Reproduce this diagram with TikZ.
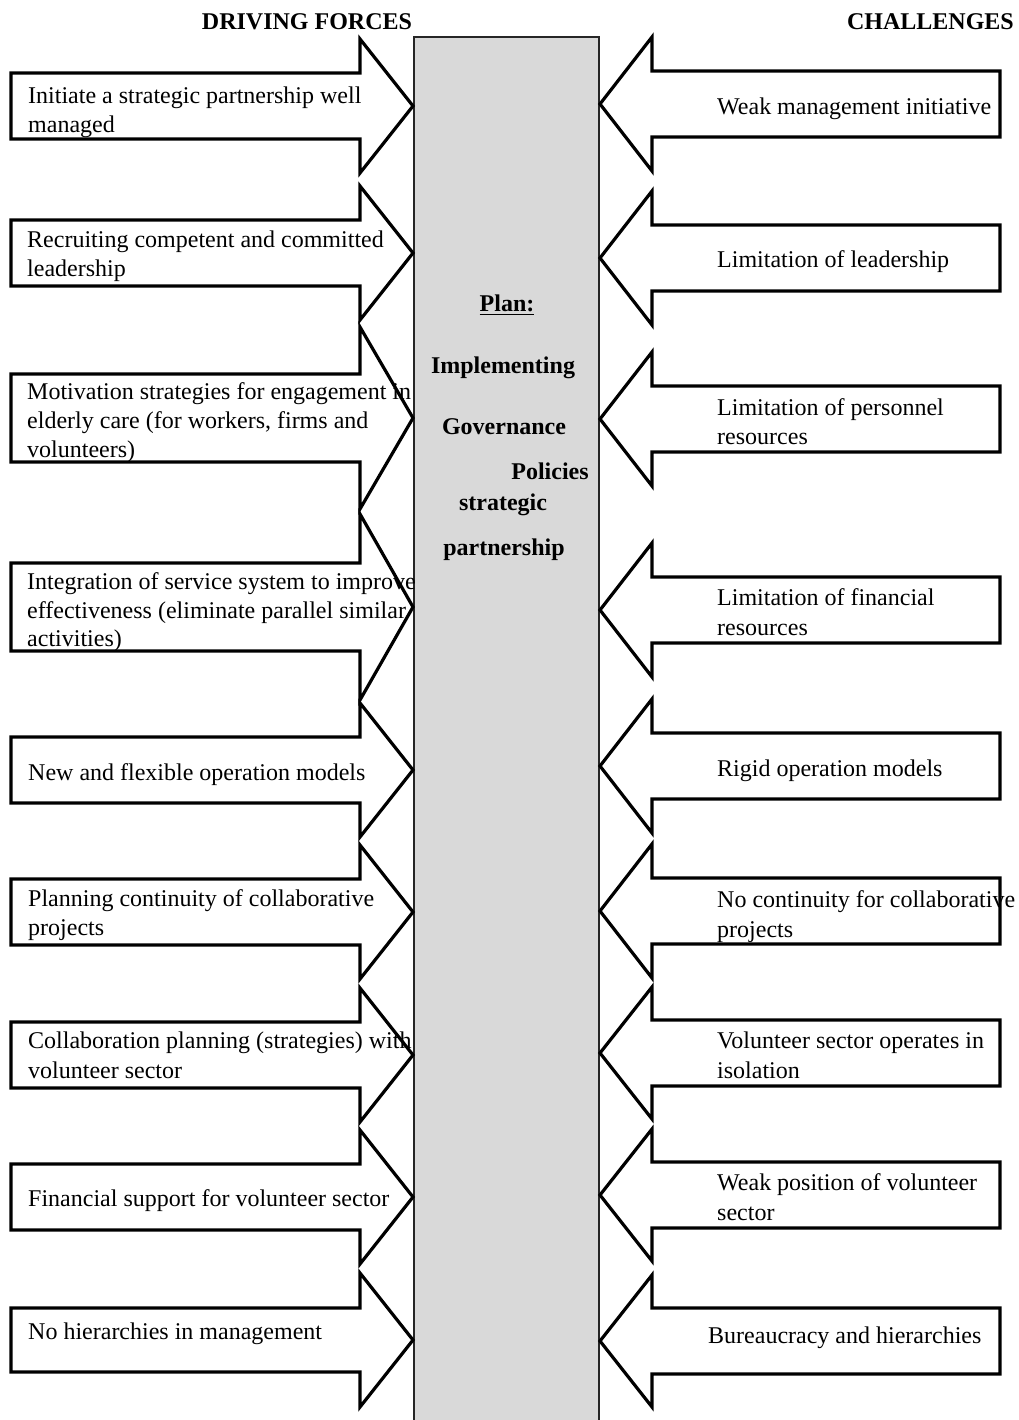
\documentclass[tikz,border=0pt]{standalone}
\usepackage{fontspec}
\setmainfont{Liberation Serif}
\definecolor{colgray}{HTML}{D9D9D9}
\newcommand\LArr[3]{\draw[arrowline] (11,{#1-#2}) -- (360,{#1-#2}) -- (360,{#1-#3}) -- (413,#1) -- (360,{#1+#3}) -- (360,{#1+#2}) -- (11,{#1+#2}) -- cycle;}
\newcommand\RArr[3]{\draw[arrowline] (1000,{#1-#2}) -- (652,{#1-#2}) -- (652,{#1-#3}) -- (600,#1) -- (652,{#1+#3}) -- (652,{#1+#2}) -- (1000,{#1+#2}) -- cycle;}
\begin{document}
\begin{tikzpicture}[x=1pt,y=-1pt,
  arrowline/.style={draw=black, line width=3.2pt, fill=white, line join=miter},
  lt/.style={anchor=base west, inner sep=0pt, font=\fontsize{24}{29}\selectfont},
  ct/.style={anchor=base, inner sep=0pt, font=\fontsize{24}{29}\selectfont\bfseries},
  ht/.style={inner sep=0pt, font=\fontsize{24}{29}\selectfont\bfseries}]
\useasboundingbox (0,0) rectangle (1018,1420);
% central column
\fill[colgray] (414,37) rectangle (599,1421);
\draw[line width=1.5pt, black!85] (414,1421) -- (414,37) -- (599,37) -- (599,1421);
% headers
\node[ht, anchor=base] (hdf) at (307,30) {DRIVING FORCES};
\node[ht, anchor=base east] (hch) at (1014,30) {CHALLENGES};
% left arrows
\LArr{106}{33}{67}
\LArr{253}{33}{67}
\LArr{418}{44}{91}
\LArr{607}{44}{93}
\LArr{770}{33}{67}
\LArr{912}{33}{67}
\LArr{1055}{33}{67}
\LArr{1197}{33}{67}
\LArr{1340}{32}{67}
% right arrows
\RArr{104}{33}{67}
\RArr{258}{33}{67}
\RArr{419}{33}{67}
\RArr{610}{33}{67}
\RArr{766}{33}{67}
\RArr{911}{33}{67}
\RArr{1053}{33}{66}
\RArr{1195}{33}{66}
\RArr{1341}{33}{66}
% central texts
\node[ct] (plan) at (507,312) {\underline{Plan:}};
\node[ct] (impl) at (503,373) {Implementing};
\node[ct] (gov) at (504,434) {Governance};
\node[ct] (pol) at (550,479) {Policies};
\node[ct] (strat) at (503,510) {strategic};
\node[ct] (part) at (504,555) {partnership};
% left texts
\node[lt] (l1a) at (28,104) {Initiate a strategic partnership well};
\node[lt] (l1b) at (28,133) {managed};
\node[lt] (l2a) at (27,248) {Recruiting competent and committed};
\node[lt] (l2b) at (27,277) {leadership};
\node[lt] (l3a) at (27,399) {Motivation strategies for engagement in};
\node[lt] (l3b) at (27,428) {elderly care (for workers, firms and};
\node[lt] (l3c) at (27,457) {volunteers)};
\node[lt] (l4a) at (27,589) {Integration of service system to improve};
\node[lt] (l4b) at (27,618) {effectiveness (eliminate parallel similar};
\node[lt] (l4c) at (27,646) {activities)};
\node[lt] (l5a) at (28,780) {New and flexible operation models};
\node[lt] (l6a) at (28,906) {Planning continuity of collaborative};
\node[lt] (l6b) at (28,935) {projects};
\node[lt] (l7a) at (28,1048) {Collaboration planning (strategies) with};
\node[lt] (l7b) at (28,1078) {volunteer sector};
\node[lt] (l8a) at (28,1206) {Financial support for volunteer sector};
\node[lt] (l9a) at (28,1339) {No hierarchies in management};
% right texts
\node[lt] (r1a) at (717,115) {Weak management initiative};
\node[lt] (r2a) at (717,268) {Limitation of leadership};
\node[lt] (r3a) at (717,415) {Limitation of personnel};
\node[lt] (r3b) at (717,444) {resources};
\node[lt] (r4a) at (717,605) {Limitation of financial};
\node[lt] (r4b) at (717,635) {resources};
\node[lt] (r5a) at (717,776) {Rigid operation models};
\node[lt] (r6a) at (717,907) {No continuity for collaborative};
\node[lt] (r6b) at (717,937) {projects};
\node[lt] (r7a) at (717,1048) {Volunteer sector operates in};
\node[lt] (r7b) at (717,1078) {isolation};
\node[lt] (r8a) at (717,1190) {Weak position of volunteer};
\node[lt] (r8b) at (717,1220) {sector};
\node[lt] (r9a) at (708,1343) {Bureaucracy and hierarchies};
\end{tikzpicture}
\end{document}
